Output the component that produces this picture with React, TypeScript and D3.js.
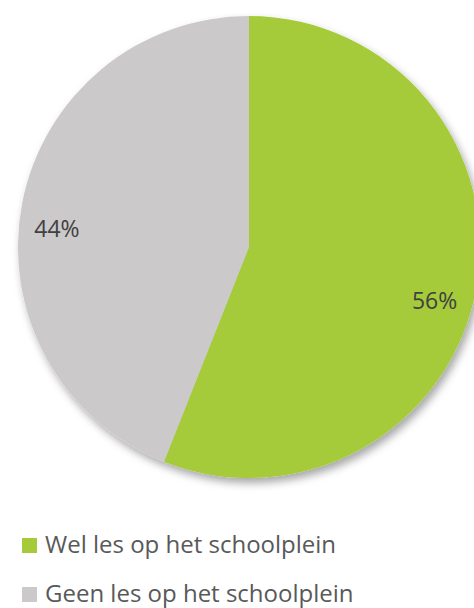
import React from "react";
import * as d3 from "d3";

const categories = ["Wel les op het schoolplein", "Geen les op het schoolplein"];
const values = [56, 44];
const colors = ["#A5CB3A", "#CBC9CA"];

const W = 474;
const H = 608;

export default function App() {
  const cx = 249;
  const cy = 247;
  const r = 231;
  const pie = d3.pie<number>().sort(null).value((d) => d);
  const arcs = pie(values);
  const arc = d3.arc<d3.PieArcDatum<number>>().innerRadius(0).outerRadius(r);
  const labelArc = d3.arc<d3.PieArcDatum<number>>().innerRadius(193).outerRadius(193);
  const total = d3.sum(values);
  const labelShift = [0.09, 0.09];

  return (
    <div style={{ position: "absolute", left: 0, top: 0 }}>
      <svg width={W} height={H} style={{ display: "block", background: "#fff" }}>
        <defs>
          <filter id="sh" x="-20%" y="-20%" width="140%" height="140%">
            <feDropShadow dx="3" dy="5" stdDeviation="4" floodColor="#000" floodOpacity="0.35" />
          </filter>
        </defs>
        <g transform={`translate(${cx},${cy})`}>
          <g filter="url(#sh)">
            {arcs.map((a, i) => (
              <path key={i} d={arc(a) || ""} fill={colors[i]} />
            ))}
          </g>
          {arcs.map((a, i) => {
            const mid = (a.startAngle + a.endAngle) / 2 + (i === 0 ? labelShift[0] : -labelShift[1]);
            const c = labelArc.centroid({ ...a, startAngle: mid, endAngle: mid });
            return (
              <text
                key={i}
                x={c[0]}
                y={c[1]}
                textAnchor="middle"
                dominantBaseline="central"
                fontFamily="'Open Sans', sans-serif"
                fontSize={23}
                fill="#404040"
              >
                {Math.round((values[i] / total) * 100)}%
              </text>
            );
          })}
        </g>
        {categories.map((c, i) => (
          <g key={c} transform={`translate(22,${553 + i * 49})`}>
            <rect x={0} y={-15} width={15} height={15} fill={colors[i]} />
            <text
              x={23}
              y={0}
              fontFamily="'Open Sans', sans-serif"
              fontSize={24}
              fill="#595959"
            >
              {c}
            </text>
          </g>
        ))}
      </svg>
    </div>
  );
}
